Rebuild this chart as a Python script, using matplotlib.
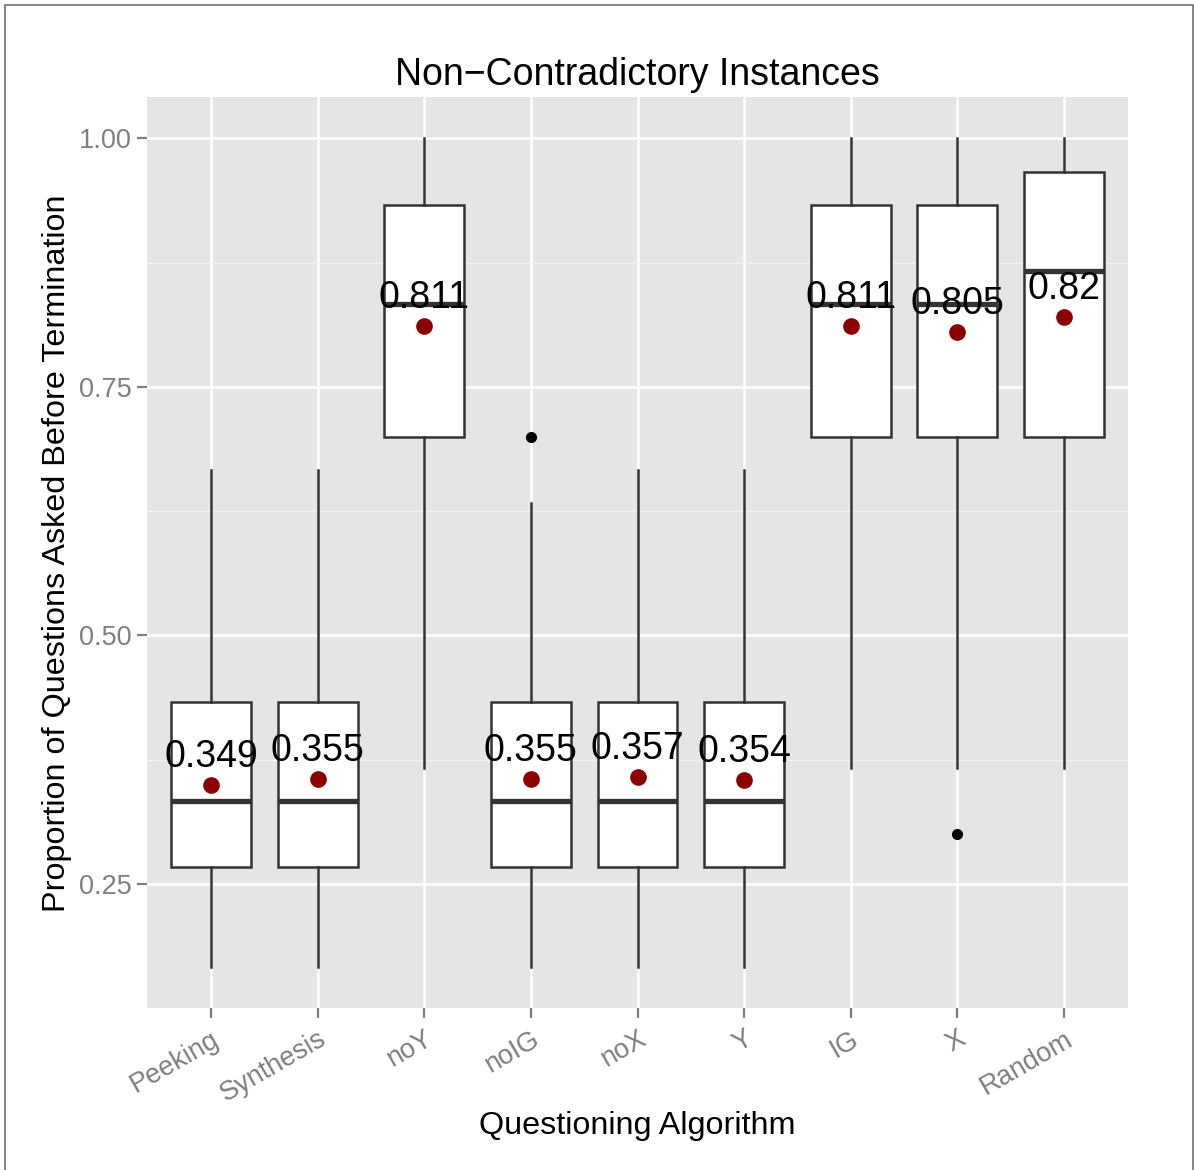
import matplotlib
matplotlib.use("Agg")
import matplotlib.pyplot as plt
from matplotlib.patches import Rectangle

plt.rcParams['font.family'] = ['Liberation Sans', 'DejaVu Sans']

categories = ["Peeking", "Synthesis", "noY", "noIG", "noX", "Y", "IG", "X", "Random"]
whislo = [0.1667, 0.1667, 0.3667, 0.1667, 0.1667, 0.1667, 0.3667, 0.3667, 0.3667]
q1 = [0.2667, 0.2667, 0.7000, 0.2667, 0.2667, 0.2667, 0.7000, 0.7000, 0.7000]
med = [0.3333, 0.3333, 0.8333, 0.3333, 0.3333, 0.3333, 0.8333, 0.8333, 0.8667]
q3 = [0.4333, 0.4333, 0.9333, 0.4333, 0.4333, 0.4333, 0.9333, 0.9333, 0.9667]
whishi = [0.6667, 0.6667, 1.0000, 0.6333, 0.6667, 0.6667, 1.0000, 1.0000, 1.0000]
outliers = [[], [], [], [0.70], [], [], [], [0.30], []]
means = [0.349, 0.355, 0.811, 0.355, 0.357, 0.354, 0.811, 0.805, 0.820]
mean_labels = ["0.349", "0.355", "0.811", "0.355", "0.357", "0.354", "0.811", "0.805", "0.82"]
yticks = [0.25, 0.50, 0.75, 1.00]
ytick_labels = ["0.25", "0.50", "0.75", "1.00"]

W, H = 1194, 1170
fig = plt.figure(figsize=(W / 100, H / 100), dpi=100)
fig.patch.set_facecolor('white')

pl, pr, pt, pb = 147, 1128, 97, 1008
ax = fig.add_axes([pl / W, 1 - pb / H, (pr - pl) / W, (pb - pt) / H])
ax.set_facecolor('#E5E5E5')
for s in ax.spines.values():
    s.set_visible(False)

positions = list(range(1, len(categories) + 1))
stats = []
for i in range(len(categories)):
    stats.append(dict(whislo=whislo[i], q1=q1[i], med=med[i], q3=q3[i],
                      whishi=whishi[i], fliers=outliers[i], label=categories[i]))

box_col = '#333333'
ax.bxp(stats, positions=positions, widths=0.75, patch_artist=True,
       showcaps=False, showfliers=True,
       boxprops=dict(facecolor='white', edgecolor=box_col, linewidth=1.8),
       whiskerprops=dict(color=box_col, linewidth=1.8),
       medianprops=dict(color=box_col, linewidth=3.8, solid_capstyle='butt'),
       flierprops=dict(marker='o', markerfacecolor='black', markeredgecolor='black',
                       markersize=7, linestyle='none'),
       zorder=3)

ax.plot(positions, means, linestyle='none', marker='o', color='#8B0000',
        markersize=12, markeredgewidth=0, zorder=4)
for x, m, lab in zip(positions, means, mean_labels):
    ax.text(x, m + 0.0185, lab, ha='center', va='baseline', fontsize=27,
            color='black', zorder=5)

ax.set_xlim(0.4, len(categories) + 0.6)
ax.set_ylim(0.125, 1.0417)
ax.set_yticks(yticks)
ax.set_yticklabels(ytick_labels)
ax.set_yticks([0.375, 0.625, 0.875], minor=True)
ax.set_xticks(positions)
ax.set_xticklabels(categories, rotation=30, ha='right', va='top', rotation_mode='anchor')

ax.tick_params(axis='both', which='major', color='#7F7F7F', length=7, width=1.6,
               labelcolor='#7F7F7F', labelsize=19.5, pad=4)
ax.tick_params(axis='x', which='major', pad=6)
ax.tick_params(axis='y', which='minor', length=0)
ax.grid(True, which='major', color='white', linewidth=1.8)
ax.grid(True, which='minor', axis='y', color='#F2F2F2', linewidth=0.9)
ax.set_axisbelow(True)

fig.text(637.5 / W, 1 - 75 / H, "Non\u2212Contradictory Instances", ha='center', va='center',
         fontsize=27, color='black')
fig.text(637.5 / W, 1 - 1126 / H, "Questioning Algorithm", ha='center', va='center',
         fontsize=23.3, color='black')
fig.text(57 / W, 1 - 553 / H, "Proportion of Questions Asked Before Termination",
         ha='center', va='center', rotation=90, fontsize=23.3, color='black')

fig.patches.append(Rectangle((4.5 / W, -0.05), (1192.5 - 4.5) / W, 1.05 - 4.5 / H,
                             transform=fig.transFigure, fill=False,
                             edgecolor='#707070', linewidth=1.2))

fig.savefig("out.png", dpi=100)
